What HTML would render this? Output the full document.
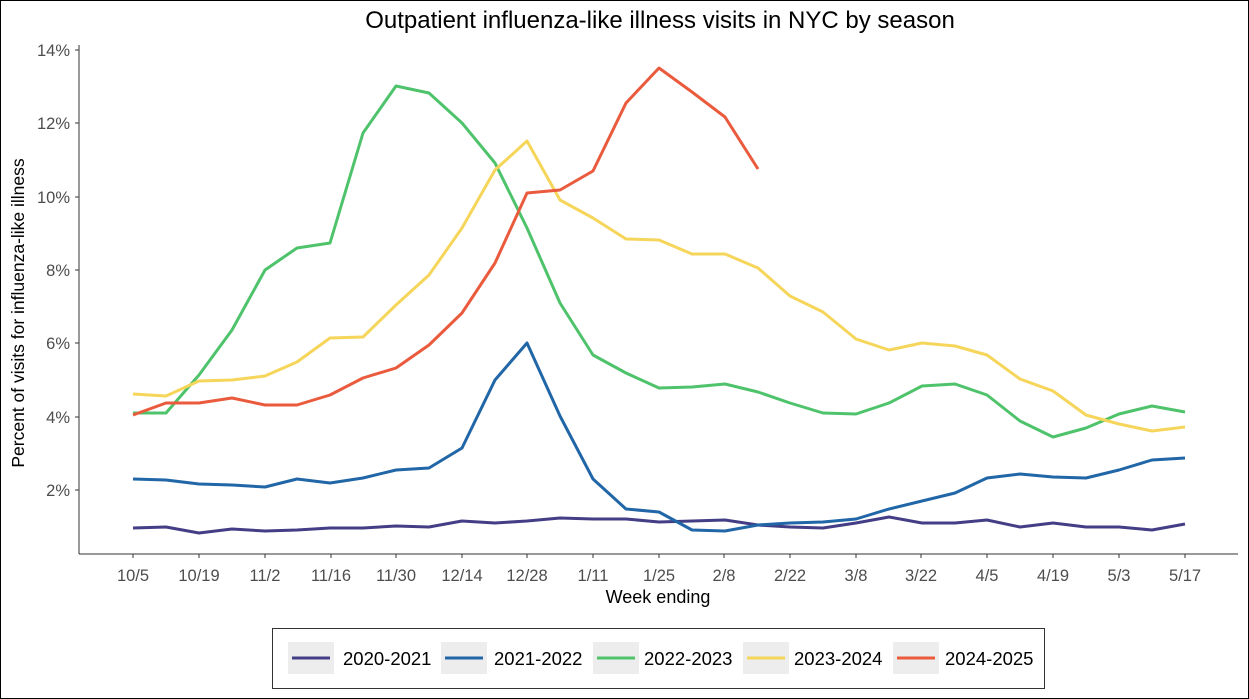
<!DOCTYPE html>
<html><head><meta charset="utf-8"><style>
html,body{margin:0;padding:0;background:#fff;}
svg{display:block;font-family:"Liberation Sans",sans-serif;}
</style></head><body>
<svg width="1249" height="699" viewBox="0 0 1249 699" xmlns="http://www.w3.org/2000/svg">
<rect x="0.5" y="0.5" width="1248" height="698" fill="#fff" stroke="#000"/>
<text x="660" y="28" font-size="24" text-anchor="middle" fill="#000">Outpatient influenza-like illness visits in NYC by season</text>
<g stroke="#333" stroke-width="1">
<line x1="79" y1="45" x2="79" y2="554"/>
<line x1="79" y1="554" x2="1238" y2="554"/>
</g>
<g font-size="16.5" fill="#4d4d4d" text-anchor="end">
<text x="70" y="56">14%</text><text x="70" y="129">12%</text><text x="70" y="203">10%</text>
<text x="70" y="276">8%</text><text x="70" y="349">6%</text><text x="70" y="423">4%</text><text x="70" y="496">2%</text>
</g>
<g stroke="#333"><line x1="75" y1="50" x2="79" y2="50"/><line x1="75" y1="123" x2="79" y2="123"/><line x1="75" y1="197" x2="79" y2="197"/><line x1="75" y1="270" x2="79" y2="270"/><line x1="75" y1="343" x2="79" y2="343"/><line x1="75" y1="417" x2="79" y2="417"/><line x1="75" y1="490" x2="79" y2="490"/></g>
<g font-size="16.5" fill="#4d4d4d" text-anchor="middle">
<text x="133" y="581">10/5</text><text x="199" y="581">10/19</text><text x="265" y="581">11/2</text><text x="331" y="581">11/16</text><text x="396" y="581">11/30</text><text x="462" y="581">12/14</text><text x="527" y="581">12/28</text><text x="593" y="581">1/11</text><text x="659" y="581">1/25</text><text x="724" y="581">2/8</text><text x="790" y="581">2/22</text><text x="856" y="581">3/8</text><text x="921" y="581">3/22</text><text x="987" y="581">4/5</text><text x="1053" y="581">4/19</text><text x="1119" y="581">5/3</text><text x="1185" y="581">5/17</text>
</g>
<g stroke="#333"><line x1="133" y1="554" x2="133" y2="558"/><line x1="199" y1="554" x2="199" y2="558"/><line x1="265" y1="554" x2="265" y2="558"/><line x1="331" y1="554" x2="331" y2="558"/><line x1="396" y1="554" x2="396" y2="558"/><line x1="462" y1="554" x2="462" y2="558"/><line x1="527" y1="554" x2="527" y2="558"/><line x1="593" y1="554" x2="593" y2="558"/><line x1="659" y1="554" x2="659" y2="558"/><line x1="724" y1="554" x2="724" y2="558"/><line x1="790" y1="554" x2="790" y2="558"/><line x1="856" y1="554" x2="856" y2="558"/><line x1="921" y1="554" x2="921" y2="558"/><line x1="987" y1="554" x2="987" y2="558"/><line x1="1053" y1="554" x2="1053" y2="558"/><line x1="1119" y1="554" x2="1119" y2="558"/><line x1="1185" y1="554" x2="1185" y2="558"/></g>
<text x="658" y="603" font-size="18" text-anchor="middle" fill="#000">Week ending</text>
<text transform="translate(24,313) rotate(-90)" font-size="17.5" text-anchor="middle" fill="#000">Percent of visits for influenza-like illness</text>
<g fill="none" stroke-width="3" stroke-linejoin="round">
<polyline stroke="#433e85" points="133,528 166,527 199,533 232,529 265,531 297,530 330,528 363,528 396,526 429,527 462,521 495,523 527,521 560,518 593,519 626,519 659,522 692,521 725,520 758,525 790,527 823,528 856,523 889,517 922,523 955,523 987,520 1020,527 1053,523 1086,527 1119,527 1152,530 1185,524"/>
<polyline stroke="#2166a6" points="133,479 166,480 199,484 232,485 265,487 297,479 330,483 363,478 396,470 429,468 462,448 495,380 527,343 560,416 593,479 626,509 659,512 692,530 725,531 758,525 790,523 823,522 856,519 889,509 922,501 955,493 987,478 1020,474 1053,477 1086,478 1119,470 1152,460 1185,458"/>
<polyline stroke="#4ec36b" points="133,413 166,413 199,375 232,330 265,270 297,248 330,243 363,133 396,86 429,93 462,123 495,163 527,228 560,303 593,355 626,373 659,388 692,387 725,384 758,392 790,403 823,413 856,414 889,403 922,386 955,384 987,395 1020,421 1053,437 1086,428 1119,414 1152,406 1185,412"/>
<polyline stroke="#f5d55a" points="133,394 166,396 199,381 232,380 265,376 297,362 330,338 363,337 396,305 429,275 462,228 495,170 527,141 560,200 593,218 626,239 659,240 692,254 725,254 758,268 790,296 823,312 856,339 889,350 922,343 955,346 987,355 1020,379 1053,391 1086,415 1119,424 1152,431 1185,427"/>
<polyline stroke="#ea5a3d" points="133,415 166,403 199,403 232,398 265,405 297,405 330,395 363,378 396,368 429,345 462,313 495,263 527,193 560,190 593,171 626,103 659,68 692,92 725,117 758,169"/>
</g>
<rect x="272.5" y="628.5" width="772" height="60" fill="#fff" stroke="#333"/>
<g font-size="18.5" fill="#000">
<rect x="288" y="642" width="46" height="32" fill="#ededed"/><line x1="292" y1="658" x2="330" y2="658" stroke="#433e85" stroke-width="3"/><text x="343" y="665">2020-2021</text>
<rect x="441" y="642" width="46" height="32" fill="#ededed"/><line x1="445" y1="658" x2="483" y2="658" stroke="#2166a6" stroke-width="3"/><text x="494" y="665">2021-2022</text>
<rect x="593" y="642" width="46" height="32" fill="#ededed"/><line x1="597" y1="658" x2="635" y2="658" stroke="#4ec36b" stroke-width="3"/><text x="644" y="665">2022-2023</text>
<rect x="743" y="642" width="46" height="32" fill="#ededed"/><line x1="747" y1="658" x2="785" y2="658" stroke="#f5d55a" stroke-width="3"/><text x="794" y="665">2023-2024</text>
<rect x="893" y="642" width="46" height="32" fill="#ededed"/><line x1="897" y1="658" x2="935" y2="658" stroke="#ea5a3d" stroke-width="3"/><text x="945" y="665">2024-2025</text>
</g>
</svg>
</body></html>
